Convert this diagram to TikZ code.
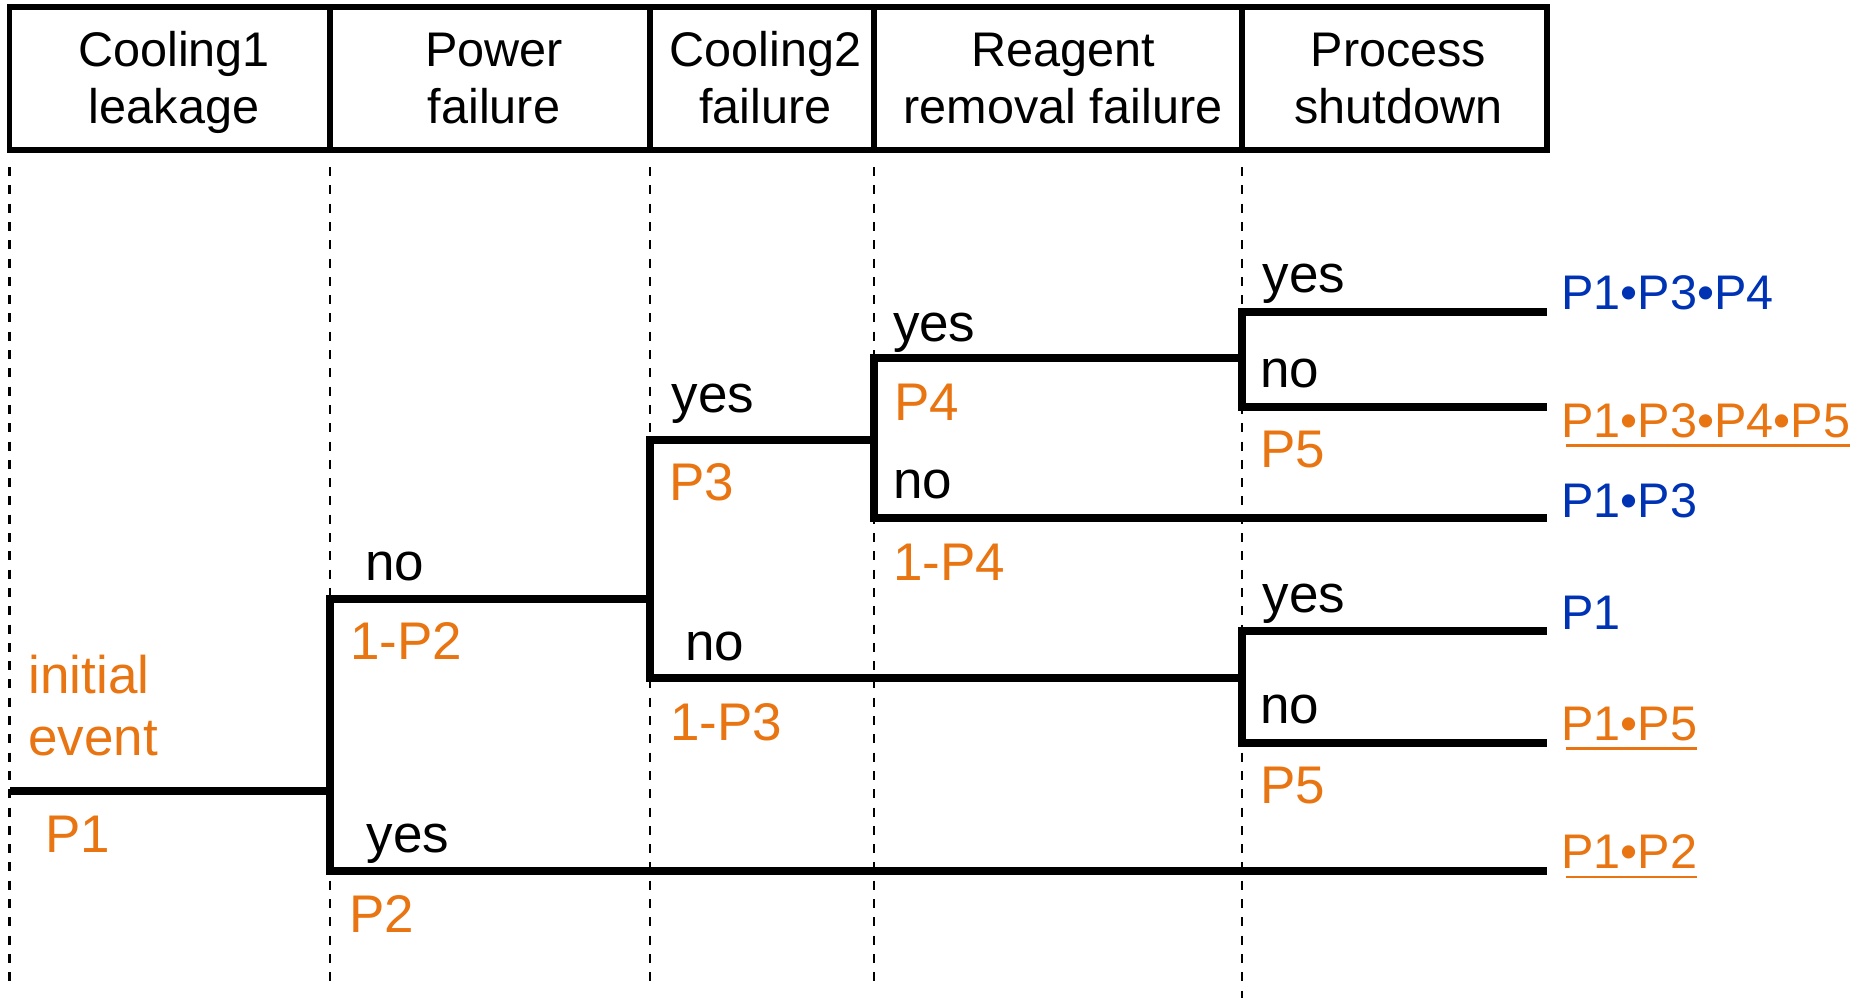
\documentclass[tikz,border=0pt]{standalone}
\usepackage{fontspec}
\setmainfont{Liberation Sans}
\definecolor{evorange}{RGB}{232,117,17}
\definecolor{evblue}{RGB}{0,51,180}
\begin{document}
\begin{tikzpicture}[x=0.5pt,y=-0.5pt,
  every node/.style={font=\fontsize{24.3}{28.35}\selectfont, inner sep=0pt, outer sep=0pt},
  hbox/.style={draw, line width=2.9pt, minimum height=71.5pt, anchor=center},
  htext/.style={anchor=base},
  guide/.style={line width=1.4pt, dash pattern=on 4.5pt off 4.65pt},
  branch/.style={line width=3.6pt, line join=miter},
  lab/.style={anchor=base west, font=\fontsize{26.5}{31.35}\selectfont},
  prob/.style={lab, text=evorange},
  res/.style={anchor=base west, text=evblue},
  resu/.style={anchor=base west, text=evorange},
  uline/.style={draw=evorange, line width=1.35pt}]
\useasboundingbox (0,0) rectangle (1859,998);

% header boxes
\node[hbox, minimum width=160.25pt] (hb1) at (169.75,78.5) {};
\node[hbox, minimum width=160pt] (hb2) at (490,78.5) {};
\node[hbox, minimum width=112pt] (hb3) at (762,78.5) {};
\node[hbox, minimum width=184pt] (hb4) at (1058,78.5) {};
\node[hbox, minimum width=152.5pt] (hb5) at (1394.5,78.5) {};

% guide lines
\coordinate (g1) at (9.5,985);
\coordinate (g2) at (330,985);
\coordinate (g3) at (650,985);
\coordinate (g4) at (874,985);
\coordinate (g5) at (1242,998);
\draw[guide] ([yshift=-8.5pt]hb1.south west) -- (g1);
\draw[guide] ([yshift=-8.5pt]hb2.south west) -- (g2);
\draw[guide] ([yshift=-8.5pt]hb3.south west) -- (g3);
\draw[guide] ([yshift=-8.5pt]hb4.south west) -- (g4);
\draw[guide] ([yshift=-8.5pt]hb5.south west) -- (g5);

% header texts
\node[htext] (ht1) at (174,66.7) {\begin{tabular}[t]{@{}c@{}}Cooling1\\leakage\end{tabular}};
\node[htext] (ht2) at (494,66.7) {\begin{tabular}[t]{@{}c@{}}Power\\failure\end{tabular}};
\node[htext] (ht3) at (765.5,66.7) {\begin{tabular}[t]{@{}c@{}}Cooling2\\failure\end{tabular}};
\node[htext] (ht4) at (1063,66.7) {\begin{tabular}[t]{@{}c@{}}Reagent\\removal failure\end{tabular}};
\node[htext] (ht5) at (1398.5,66.7) {\begin{tabular}[t]{@{}c@{}}Process\\shutdown\end{tabular}};

% tree coordinates
\coordinate (s0) at (10,791);
\coordinate (f1) at (330,791);
\coordinate (a1) at (330,599);
\coordinate (b1) at (330,871);
\coordinate (f2) at (650,599);
\coordinate (a2) at (650,440);
\coordinate (b2) at (650,678);
\coordinate (f3) at (874,440);
\coordinate (a3) at (874,358);
\coordinate (b3) at (874,518);
\coordinate (f4) at (1242,358);
\coordinate (a4) at (1242,312);
\coordinate (b4) at (1242,407);
\coordinate (f5) at (1242,678);
\coordinate (a5) at (1242,631);
\coordinate (b5) at (1242,743);
\coordinate (e1) at (1547,312);
\coordinate (e2) at (1547,407);
\coordinate (e3) at (1547,518);
\coordinate (e4) at (1547,631);
\coordinate (e5) at (1547,743);
\coordinate (e6) at (1547,871);

\draw[branch] (s0) -- (f1);
\draw[branch] (f2) -- (a1) -- (b1) -- (e6);
\draw[branch] (f3) -- (a2) -- (b2) -- (f5);
\draw[branch] (f4) -- (a3) -- (b3) -- (e3);
\draw[branch] (e1) -- (a4) -- (b4) -- (e2);
\draw[branch] (e4) -- (a5) -- (b5) -- (e5);

% branch labels
\node[prob] (ie) at (28.5,693) {\begin{tabular}[t]{@{}l@{}}initial\\event\end{tabular}};
\node[prob] (p1) at (45.5,852) {P1};
\node[lab] (n2) at (365,580) {no};
\node[prob] (q2) at (350,659) {1-P2};
\node[lab] (y2) at (366.5,852) {yes};
\node[prob] (p2) at (349.5,932) {P2};
\node[lab] (y3) at (671.5,412) {yes};
\node[prob] (p3) at (669,500) {P3};
\node[lab] (n3) at (685,660) {no};
\node[prob] (q3) at (670,740) {1-P3};
\node[lab] (y4) at (893,341) {yes};
\node[prob] (p4) at (894,420) {P4};
\node[lab] (n4) at (893.5,498) {no};
\node[prob] (q4) at (893,580) {1-P4};
\node[lab] (y5a) at (1262.5,292) {yes};
\node[lab] (n5a) at (1260.5,387) {no};
\node[prob] (p5a) at (1260,467) {P5};
\node[lab] (y5b) at (1262.5,612) {yes};
\node[lab] (n5b) at (1260.5,723) {no};
\node[prob] (p5b) at (1260,803) {P5};

% results
\node[res] (r1) at (1561.5,309.5) {P1•P3•P4};
\node[resu] (r2) at (1561.5,437) {P1•P3•P4•P5};
\node[res] (r3) at (1561.5,517) {P1•P3};
\node[res] (r4) at (1561.5,629) {P1};
\node[resu] (r5) at (1561.5,740) {P1•P5};
\node[resu] (r6) at (1561.5,868.5) {P1•P2};
\draw[uline] ([xshift=2pt,yshift=-4.25pt]r2.base west) -- ([yshift=-4.25pt]r2.base east);
\draw[uline] ([xshift=2pt,yshift=-4.25pt]r5.base west) -- ([yshift=-4.25pt]r5.base east);
\draw[uline] ([xshift=2pt,yshift=-4.25pt]r6.base west) -- ([yshift=-4.25pt]r6.base east);
\end{tikzpicture}
\end{document}
